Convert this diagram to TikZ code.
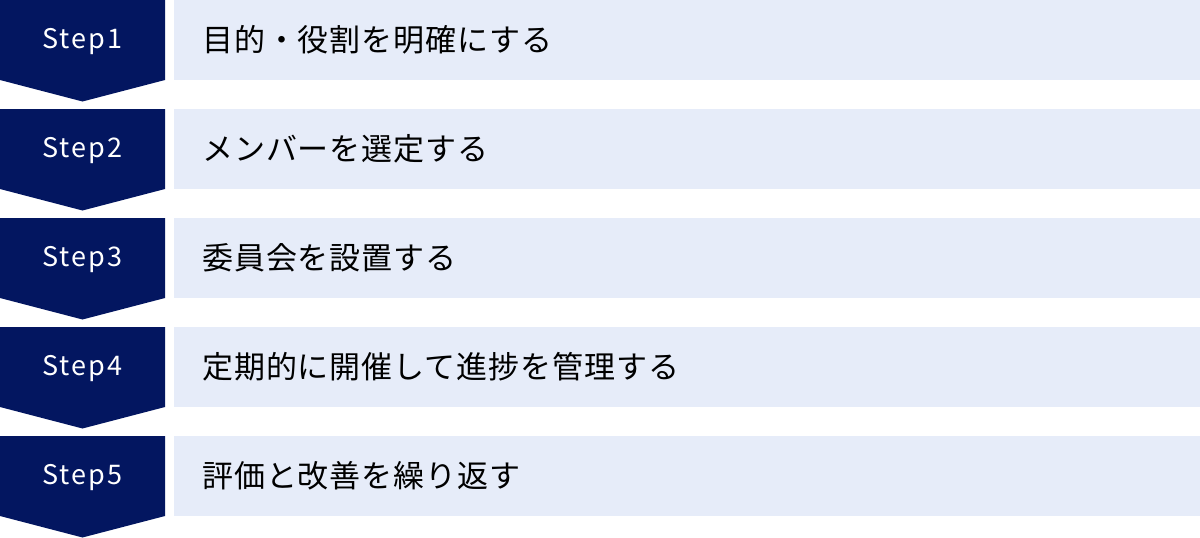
\documentclass[tikz,border=0pt]{standalone}
\usepackage{fontspec}
\setmainfont{Noto Sans CJK JP}
\newfontfamily\stepfont[LetterSpace=8]{Noto Sans CJK JP}
\newfontfamily\itemfont[LetterSpace=3]{Noto Sans CJK JP}
\definecolor{navy}{HTML}{031660}
\definecolor{lightbox}{HTML}{E6ECF9}
\tikzset{
  chev/.style={fill=navy, draw=none},
  bar/.style={fill=lightbox, draw=none},
  steplabel/.style={text=white, font=\stepfont\fontsize{27}{32}\selectfont, anchor=center, inner sep=0pt},
  itemtext/.style={text=black, font=\itemfont\fontsize{31}{36}\selectfont, anchor=west, inner sep=0pt},
}
\begin{document}
\begin{tikzpicture}[x=1pt,y=-1pt]
\useasboundingbox (0,0) rectangle (1200,538);
\foreach \i/\t in {0/目的・役割を明確にする,1/メンバーを選定する,2/委員会を設置する,3/定期的に開催して進捗を管理する,4/評価と改善を繰り返す}{
  \pgfmathsetmacro{\yy}{\i*109}
  \pgfmathtruncatemacro{\n}{\i+1}
  \fill[chev] (0,\yy) -- (165,\yy) -- (165,\yy+80) -- (82.5,\yy+101.5) -- (0,\yy+80) -- cycle;
  \node[bar, minimum width=1026pt, minimum height=80pt, anchor=north west, inner sep=0pt] (b\n) at (174,\yy) {};
  \node[steplabel] (s\n) at (82.5,\yy+42) {Step\n};
  \node[itemtext] (t\n) at (202,\yy+40) {\t};
}
\end{tikzpicture}
\end{document}
